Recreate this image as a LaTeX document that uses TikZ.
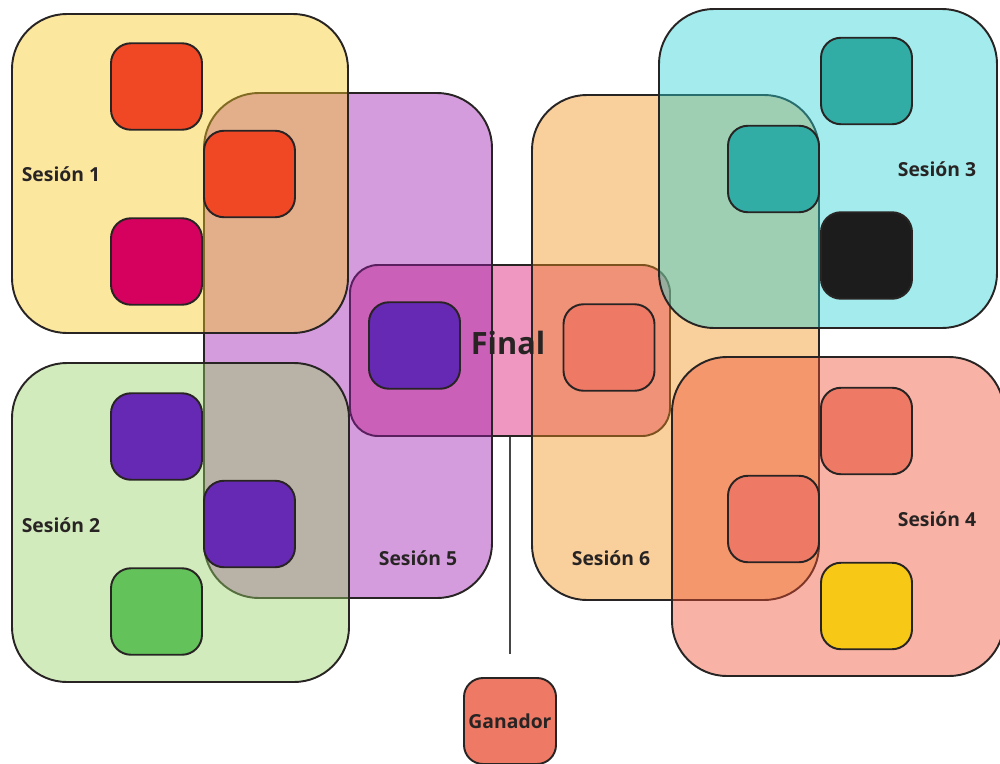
\documentclass[tikz,border=0pt]{standalone}
\usepackage{xcolor}
\usepackage{fontspec}
\setmainfont{Open Sans}
\usepackage{tikz}

\definecolor{borde}{RGB}{40,36,36}
\definecolor{linea}{RGB}{70,70,70}
\definecolor{amarillo}{RGB}{248,199,32}
\definecolor{lila}{RGB}{155,25,174}
\definecolor{verdoso}{RGB}{150,208,99}
\definecolor{naranja}{RGB}{241,143,25}
\definecolor{cian}{RGB}{41,208,211}
\definecolor{coral}{RGB}{241,78,48}
\definecolor{rosa}{RGB}{218,13,108}
\definecolor{rojo}{RGB}{240,71,36}
\definecolor{carmin}{RGB}{214,0,95}
\definecolor{morado}{RGB}{101,41,180}
\definecolor{verde}{RGB}{99,195,90}
\definecolor{turquesa}{RGB}{49,173,166}
\definecolor{negro}{RGB}{28,28,28}
\definecolor{salmon}{RGB}{238,121,101}
\definecolor{oro}{RGB}{247,200,21}

\begin{document}
\begin{tikzpicture}[x=0.2mm, y=-0.2mm,
    sesion/.style={draw=borde, line width=1.1pt, rounded corners=11mm, fill opacity=0.43, inner sep=0pt},
    ficha/.style={draw=borde, line width=1.1pt, rounded corners=4mm, minimum width=18.2mm, minimum height=17.3mm, inner sep=0pt},
    etiqueta/.style={font=\bfseries\fontsize{11}{13}\selectfont, text=borde}]
    \useasboundingbox (0,0) rectangle (1000,763);

    \node[sesion, fill=rosa, rounded corners=5.6mm, minimum width=64mm, minimum height=34.2mm] (final) at (510,350.5) {};
    \node[sesion, fill=lila, minimum width=57.6mm, minimum height=101mm] (s5) at (348,345.5) {};
    \node[sesion, fill=naranja, minimum width=57.4mm, minimum height=101mm] (s6) at (675.5,347.5) {};
    \node[sesion, fill=amarillo, minimum width=67.2mm, minimum height=63.8mm] (s1) at (180,173.5) {};
    \node[sesion, fill=verdoso, minimum width=67.4mm, minimum height=63.8mm] (s2) at (180.5,522.5) {};
    \node[sesion, fill=cian, minimum width=67.6mm, minimum height=63.8mm] (s3) at (828,168.5) {};
    \node[sesion, fill=coral, minimum width=66.4mm, minimum height=63.8mm] (s4) at (838,516.5) {};

    \node[ficha, fill=rojo] (s1a) at (156.5,86.5) {};
    \node[ficha, fill=rojo] (s1b) at (249.5,174) {};
    \node[ficha, fill=carmin] (s1c) at (156.5,261.5) {};

    \node[ficha, fill=morado] (s2a) at (156.5,436.5) {};
    \node[ficha, fill=morado] (s2b) at (249.5,524) {};
    \node[ficha, fill=verde] (s2c) at (156.5,611.5) {};

    \node[ficha, fill=turquesa] (s3a) at (866.5,81) {};
    \node[ficha, fill=turquesa] (s3b) at (773.5,169) {};
    \node[ficha, fill=negro] (s3c) at (866.5,255.5) {};

    \node[ficha, fill=salmon] (s4a) at (866.5,431) {};
    \node[ficha, fill=salmon] (s4b) at (773.5,519) {};
    \node[ficha, fill=oro] (s4c) at (866.5,606) {};

    \node[ficha, fill=morado] (fa) at (414.5,345.5) {};
    \node[ficha, fill=salmon] (fb) at (609,347.5) {};

    \node[etiqueta] (l1) at (61,174) {Sesión 1};
    \node[etiqueta] (l2) at (61,525) {Sesión 2};
    \node[etiqueta] (l3) at (937,169) {Sesión 3};
    \node[etiqueta] (l4) at (937,519) {Sesión 4};
    \node[etiqueta] (l5) at (418,558) {Sesión 5};
    \node[etiqueta] (l6) at (611,558) {Sesión 6};
    \node[etiqueta, font=\bfseries\fontsize{17.5}{20}\selectfont] (lfinal) at (508,343) {Final};

    \node[ficha, fill=salmon, rounded corners=3.8mm, minimum width=18.4mm, minimum height=17.2mm, etiqueta] (ganador) at (510,721) {Ganador};
    \draw[linea, line width=0.8pt, shorten >=4.6mm] (final.south) -- (ganador.north);
\end{tikzpicture}
\end{document}
